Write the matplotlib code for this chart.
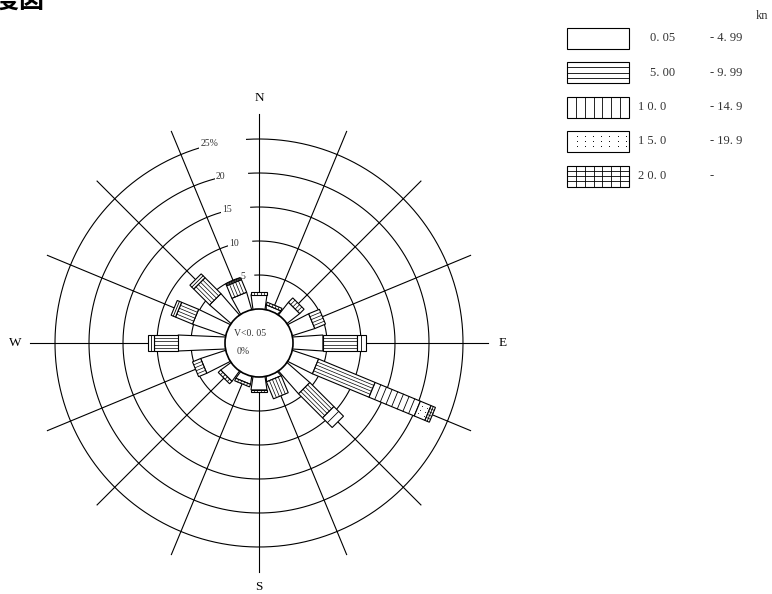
import numpy as np
import matplotlib
matplotlib.use('Agg')
import matplotlib.pyplot as plt
from matplotlib.patches import Polygon, Circle, Rectangle

plt.rcParams['font.family'] = ['Liberation Serif', 'DejaVu Serif']

# wind directions, clockwise from north
directions = ['N', 'NNE', 'NE', 'ENE', 'E', 'ESE', 'SE', 'SSE',
              'S', 'SSW', 'SW', 'WSW', 'W', 'WNW', 'NW', 'NNW']
# frequency (%) per speed class
spd_00 = [2.1, 0.6, 2.3, 3.4, 4.4, 4.0, 4.4, 0.7, 1.9, 1.1, 1.8, 3.8, 6.9, 5.1, 4.1, 2.6]
spd_05 = [0.4, 0.4, 0.9, 1.7, 5.0, 9.0, 5.0, 2.7, 0.3, 0.4, 0.5, 1.3, 3.5, 2.7, 3.3, 2.0]
spd_10 = [0.0, 0.0, 0.0, 0.0, 1.3, 7.2, 2.0, 0.0, 0.0, 0.0, 0.0, 0.0, 0.9, 0.7, 0.8, 0.3]
spd_15 = [0.0, 0.0, 0.0, 0.0, 0.0, 1.7, 0.0, 0.0, 0.0, 0.0, 0.0, 0.0, 0.0, 0.0, 0.0, 0.0]
spd_20 = [0.0, 0.0, 0.0, 0.0, 0.0, 0.7, 0.0, 0.0, 0.0, 0.0, 0.0, 0.0, 0.0, 0.0, 0.0, 0.0]
classes = ['c0', 'c5', 'c10', 'c15', 'c20']
class_lo = ['0. 05', '5. 00', '1 0. 0', '1 5. 0', '2 0. 0']
class_hi = ['- 4. 99', '- 9. 99', '- 14. 9', '- 19. 9', '-']
ring_pcts = [5, 10, 15, 20, 25]
ring_txt = ['5', '10', '15', '20', '25%']
calm_label = 'V<0. 05'
calm_pct = '0%'
unit = 'kn'
title = '風向頻度図'

CX, CY = 259, 343
R0, K = 34.0, 6.8
HW, HB = 8.0, 6.0
SPOKE = 229
LW = 0.8


def rad(p):
    return R0 + K * p


def pt(th, r, s=0.0):
    return (CX + r * np.sin(th) + s * np.cos(th),
            CY - r * np.cos(th) + s * np.sin(th))


def seg_line(ax, a, b, lw=0.6):
    ax.plot([a[0], b[0]], [a[1], b[1]], color='black', lw=lw, zorder=4)


def hatch_seg(ax, th, ra, rb, kind):
    ln = rb - ra
    if kind in ('c5', 'c20'):
        for i in range(1, 5):
            s = -HW + 2 * HW * i / 5
            seg_line(ax, pt(th, ra, s), pt(th, rb, s), 0.5)
    if kind in ('c10', 'c20'):
        n = max(1, int(round(ln / 6.3)) - 1)
        for j in range(1, n + 1):
            r = ra + ln * j / (n + 1)
            seg_line(ax, pt(th, r, -HW), pt(th, r, HW), 0.6)
    if kind == 'c15':
        n = max(1, int(ln / 4.0))
        for j in range(n):
            r = ra + ln * (j + 0.5) / n
            for s in (-HW * 0.5, 0, HW * 0.5):
                x, y = pt(th, r, s)
                ax.plot(x, y, 'o', ms=0.6, mew=0, color='black', zorder=4)


fig = plt.figure(figsize=(7.72, 5.94), dpi=100)
ax = fig.add_axes([0, 0, 1, 1])
ax.set_xlim(0, 772)
ax.set_ylim(594, 0)
ax.axis('off')

# spokes
for i in range(16):
    th = np.radians(22.5 * i)
    a, b = pt(th, R0), pt(th, SPOKE)
    ax.plot([a[0], b[0]], [a[1], b[1]], color='black', lw=LW, zorder=1)

# rings with a gap where the label sits
for p, t in zip(ring_pcts, ring_txt):
    r = rad(p)
    th = np.radians(np.linspace(-3.5, 360 - 11.5, 720))
    ax.plot(CX + r * np.sin(th), CY - r * np.cos(th), color='black', lw=LW, zorder=1)
    lx, ly = pt(np.radians(-11.5), r)
    ax.text(lx, ly, t, ha='right', va='center', fontsize=7, color='#333333', zorder=2,
            bbox=dict(boxstyle='square,pad=0.1', fc='white', ec='none'))

# bars
stack = np.array([spd_00, spd_05, spd_10, spd_15, spd_20])
for i, d in enumerate(directions):
    th = np.radians(22.5 * i)
    cum = 0.0
    for k, kind in enumerate(classes):
        v = stack[k, i]
        if v <= 0:
            continue
        ra, rb = rad(cum), rad(cum + v)
        cum += v
        if k == 0:
            rr = np.sqrt(R0 ** 2 - HB ** 2)
            poly = [pt(th, rr, -HB), pt(th, rb, -HW), pt(th, rb, HW), pt(th, rr, HB)]
        else:
            poly = [pt(th, ra, -HW), pt(th, rb, -HW), pt(th, rb, HW), pt(th, ra, HW)]
        ax.add_patch(Polygon(poly, closed=True, fc='white', ec='black', lw=LW, zorder=3))
        hatch_seg(ax, th, ra, rb, kind)

# calm circle
ax.add_patch(Circle((CX, CY), R0, fc='white', ec='black', lw=1.2, zorder=5))
ax.text(CX - 9, CY - 9, calm_label, ha='center', va='center', fontsize=7, color='#333333', zorder=6)
ax.text(CX - 16, CY + 9, calm_pct, ha='center', va='center', fontsize=7, color='#333333', zorder=6)

# compass letters
for t, (x, y) in zip(['N', 'E', 'S', 'W'], [(CX, 98), (503, CY), (CX, 587), (15, CY)]):
    ax.text(x, y, t, ha='center', va='center', fontsize=9.5)

# legend
LX, LW_BOX, LH = 567, 62, 21
rows = [38, 72.5, 107, 141.5, 176]
for k, (kind, y) in enumerate(zip(classes, rows)):
    top = y - LH / 2
    ax.add_patch(Rectangle((LX, top), LW_BOX, LH, fc='white', ec='black', lw=LW, zorder=3))
    if kind in ('c5', 'c20'):
        for j in range(1, 4):
            yy = top + LH * j / 4
            ax.plot([LX, LX + LW_BOX], [yy, yy], color='black', lw=0.6, zorder=4)
    if kind in ('c10', 'c20'):
        for j in range(1, 7):
            xx = LX + LW_BOX * j / 7
            ax.plot([xx, xx], [top, top + LH], color='black', lw=0.6, zorder=4)
    if kind == 'c15':
        for a in range(7):
            for b in range(3):
                ax.plot(LX + 10 + 8.1 * a, top + 4.5 + 5.2 * b, 'o', ms=0.7, mew=0,
                        color='black', zorder=4)
    tx = 650 if k < 2 else 638
    ax.text(tx, y, class_lo[k], ha='left', va='center', fontsize=9, color='#333333')
    ax.text(710, y, class_hi[k], ha='left', va='center', fontsize=9, color='#333333')
ax.text(768, 16, unit, ha='right', va='center', fontsize=9, color='#333333')

# title, partly off the canvas
ax.text(44, 1, title, ha='right', va='center', fontsize=18, fontweight='bold',
        family=['Noto Sans CJK JP', 'DejaVu Sans'])

fig.savefig('out.png', dpi=100)
